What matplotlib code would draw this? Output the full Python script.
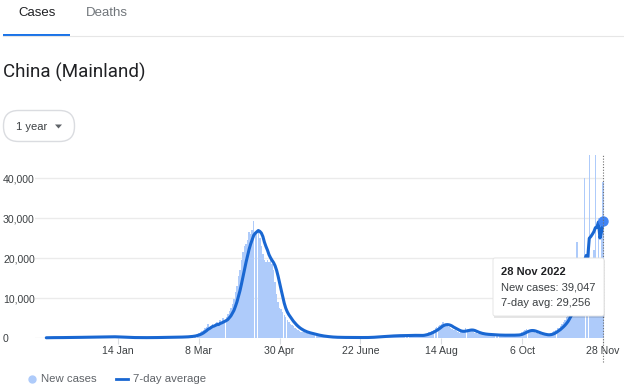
import matplotlib
matplotlib.use("Agg")
import matplotlib.pyplot as plt
from matplotlib.patches import FancyBboxPatch, Rectangle, Polygon
import pandas as pd

W, H = 624, 390

# daily new cases, 28 Nov 2021 .. 28 Nov 2022 (one row per week)
start_date = "2021-11-28"
end_date = "2022-11-28"
new_cases = [
    60, 80, 110, 90, 120, 100, 80,
    90, 130, 110, 100, 140, 120, 100,
    110, 150, 130, 160, 140, 170, 150,
    180, 200, 170, 210, 230, 200, 220,
    240, 260, 230, 280, 250, 270, 290,
    300, 280, 320, 290, 310, 330, 300,
    320, 290, 310, 270, 250, 230, 210,
    190, 170, 160, 140, 130, 120, 110,
    100, 90, 110, 100, 90, 80, 100,
    90, 80, 100, 110, 90, 100, 120,
    110, 130, 120, 140, 130, 150, 140,
    150, 170, 160, 180, 170, 190, 200,
    210, 220, 240, 230, 260, 250, 280,
    300, 340, 380, 420, 480, 560, 650,
    800, 1000, 1200, 1400, 1700, 2100, 2500,
    2800, 3400, 2600, 3100, 3600, 2900, 3800,
    4100, 3500, 4500, 4000, 4900, 4300, 5200,
    5900, 6800, 7500, 8600, 9800, 11500, 13000,
    15500, 17000, 19500, 21500, 23000, 23500, 24500,
    26500, 26000, 27000, 29300, 26500, 26000, 26800,
    25000, 23000, 21000, 19500, 19000, 19500, 19000,
    19500, 18500, 17000, 14000, 11000, 9000, 7500,
    7200, 6500, 5800, 5200, 4600, 4100, 3600,
    3200, 2900, 2600, 2300, 2000, 1800, 1600,
    1500, 1400, 1300, 1200, 1100, 1000, 900,
    800, 700, 600, 550, 500, 450, 400,
    350, 300, 260, 230, 210, 190, 180,
    160, 150, 170, 140, 150, 130, 140,
    130, 150, 140, 120, 130, 140, 120,
    110, 130, 120, 100, 110, 120, 130,
    140, 160, 180, 200, 230, 260, 290,
    320, 350, 380, 400, 430, 460, 480,
    500, 520, 540, 560, 580, 600, 620,
    600, 580, 560, 600, 640, 620, 660,
    700, 680, 720, 650, 600, 580, 560,
    620, 700, 820, 950, 1100, 1250, 1400,
    1600, 1800, 2100, 2400, 2700, 3000, 3300,
    3600, 3900, 3500, 3200, 2900, 2700, 2500,
    2300, 2100, 2000, 1800, 1500, 1300, 1400,
    1700, 2000, 2400, 2200, 2100, 1900, 1700,
    1500, 1300, 1200, 1100, 1000, 1000, 950,
    900, 880, 850, 820, 800, 780, 760,
    740, 720, 700, 680, 700, 720, 700,
    690, 700, 720, 680, 700, 710, 740,
    760, 800, 900, 1100, 1400, 1700, 2000,
    2200, 2100, 1900, 1700, 1500, 1400, 1300,
    1200, 1000, 900, 800, 750, 700, 720,
    800, 950, 1200, 1500, 1800, 2100, 2500,
    2500, 3000, 3500, 4000, 4500, 5200, 6000,
    7000, 8000, 9000, 10000, 11500, 24000, 13000,
    15000, 16000, 17500, 40000, 19000, 21000, 46000,
    18000, 20000, 22000, 47000, 20000, 30000, 18000,
    28745, 39047,
]
tick_dates = ["2022-01-14", "2022-03-08", "2022-04-30", "2022-06-22",
              "2022-08-14", "2022-10-06", "2022-11-28"]
tick_labels = ["14 Jan", "8 Mar", "30 Apr", "22 June", "14 Aug", "6 Oct", "28 Nov"]
y_ticks = [0, 10000, 20000, 30000, 40000]

days = pd.date_range(start_date, end_date, freq="D")
cases = pd.Series(new_cases, index=days)
avg7 = cases.rolling(7, min_periods=1).mean()

plt.rcParams["font.family"] = ["Liberation Sans", "DejaVu Sans"]

BAR = "#aecbfa"
LINE = "#1967d2"

fig = plt.figure(figsize=(W / 100, H / 100), dpi=100)

# main chart, placed in pixels
ax = fig.add_axes([35 / W, 1 - 338 / H, (604 - 35) / W, (338 - 155) / H])
ax.bar(days, cases, width=0.95, color=BAR, linewidth=0, zorder=1)
ax.plot(days, avg7, color=LINE, lw=2.2, solid_capstyle="round",
        solid_joinstyle="round", clip_on=False, zorder=3)
ax.plot(days[-1], avg7.iloc[-1], "o", color="#4285f4", ms=6.5,
        clip_on=False, zorder=4)
ax.axvline(days[-1], ymin=-0.13, ymax=1, color="#6f6f6f", lw=0.8,
           ls=(0, (1, 1.5)), clip_on=False, zorder=5)

ax.set_xlim(days[0] - pd.Timedelta(days=7.4), days[-1] + pd.Timedelta(days=0.65))
ax.set_ylim(0, 45750)
for s in ax.spines.values():
    s.set_visible(False)
ax.grid(axis="y", color="#ebebeb", lw=1)
ax.set_axisbelow(True)

ax.set_yticks(y_ticks, [f"{v:,}" for v in y_ticks])
ax.tick_params(axis="y", length=0, pad=23, labelsize=7.6, labelcolor="#3c4043")
for lab in ax.get_yticklabels():
    lab.set_horizontalalignment("left")
ax.set_xticks(pd.to_datetime(tick_dates), tick_labels)
ax.tick_params(axis="x", length=4, width=0.8, color="#dadce0", pad=2,
               labelsize=7.6, labelcolor="#3c4043")

# overlay in pixel coordinates for the page furniture
deco = fig.add_axes([0, 0, 1, 1], zorder=5)
deco.set_xlim(0, W)
deco.set_ylim(H, 0)
deco.axis("off")
deco.patch.set_alpha(0)

# tabs
deco.text(36.7, 13.5, "Cases", ha="center", va="center", fontsize=9.5, color="#202124")
deco.text(106.5, 13.5, "Deaths", ha="center", va="center", fontsize=9.5, color="#70757a")
deco.plot([3, W], [36, 36], color="#e6e6e6", lw=0.8)
deco.add_patch(Rectangle((3, 33.5), 67, 2.5, color="#1a73e8", lw=0))

# title
deco.text(3, 72.5, "China (Mainland)", ha="left", va="center", fontsize=13.5,
          family="Roboto", color="#202124")

# range dropdown
deco.add_patch(FancyBboxPatch((3.5, 110.5), 71, 31,
                              boxstyle="round,pad=0,rounding_size=15",
                              fc="white", ec="#dadce0", lw=1))
deco.text(16, 126.5, "1 year", ha="left", va="center", fontsize=8, color="#3c4043")
deco.add_patch(Polygon([(55, 124.5), (62, 124.5), (58.5, 128.5)], closed=True,
                       color="#5f6368", lw=0))

# tooltip
deco.add_patch(Rectangle((494, 259.5), 111, 58, fc="black", alpha=0.10, lw=0))
deco.add_patch(FancyBboxPatch((493, 258), 111, 58,
                              boxstyle="round,pad=0,rounding_size=2",
                              fc="white", ec="#e2e2e2", lw=0.6))
last_day = days[-1]
deco.text(501, 271.7, f"{last_day.day} {last_day:%b %Y}", ha="left", va="center",
          fontsize=8, weight="bold", color="#202124")
deco.text(501, 287, f"New cases: {new_cases[-1]:,}", ha="left", va="center",
          fontsize=8, color="#3c4043")
deco.text(501, 303, f"7-day avg: {avg7.iloc[-1]:,.0f}", ha="left", va="center",
          fontsize=8, color="#3c4043")

# legend
deco.plot([31.7], [379], "o", color=BAR, ms=5)
deco.text(41, 379, "New cases", ha="left", va="center", fontsize=8.2, color="#5f6368")
deco.plot([116, 128], [379, 379], color=LINE, lw=2)
deco.text(132.7, 379, "7-day average", ha="left", va="center", fontsize=8.2, color="#5f6368")

fig.savefig("out.png", dpi=100)
